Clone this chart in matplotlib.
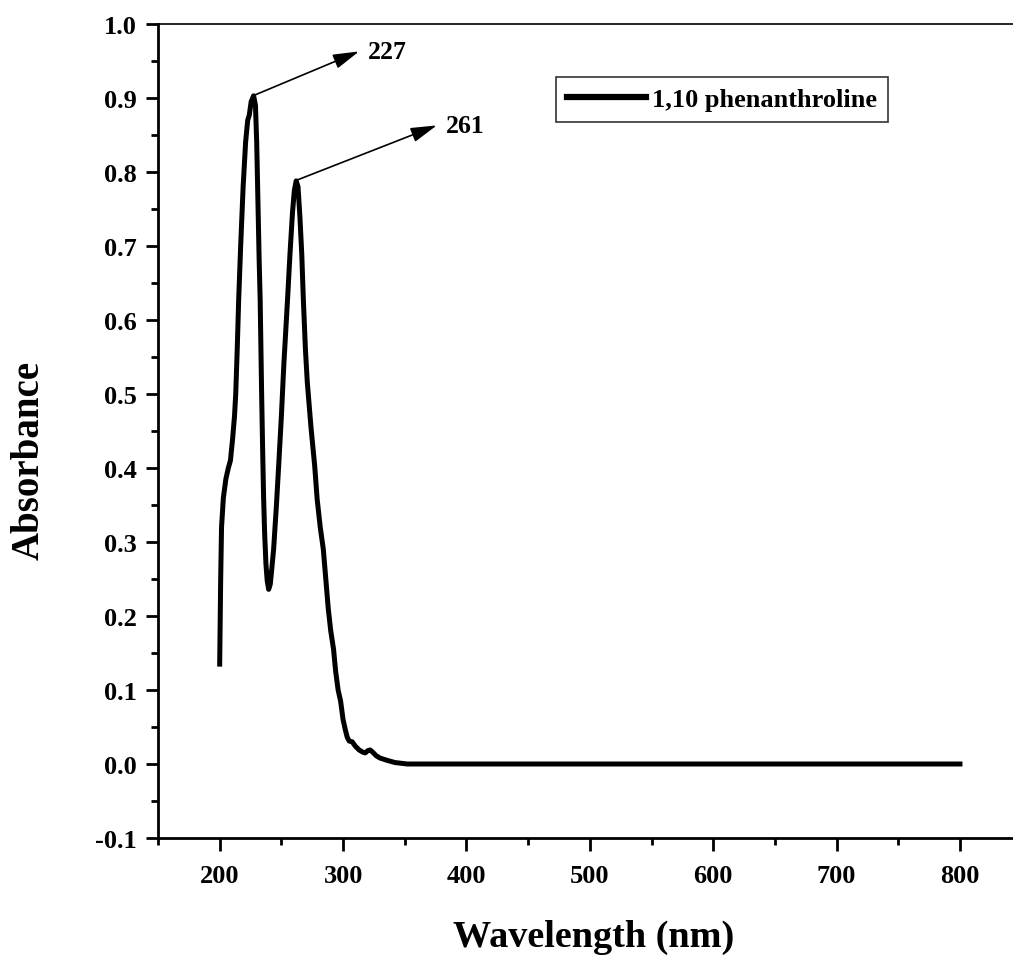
import matplotlib
matplotlib.use("Agg")
import matplotlib.pyplot as plt
from matplotlib.ticker import MultipleLocator

# UV-Vis absorption spectrum of 1,10-phenanthroline
wavelength = [200, 200.8, 201.5, 203, 205, 207, 208.7, 210.5, 212, 213, 214.2, 215.4,
              217, 219, 221, 222.7, 224, 225.5, 227.5, 229, 230, 231, 232, 232.8,
              234, 234.8, 235.6, 236.4, 237.5, 238.5, 239.7, 241, 242, 243.7, 246,
              247.8, 250, 252, 255, 257, 259, 260.5, 262, 263.5, 265, 266.5, 267.8,
              269.5, 271, 274, 277, 279, 281.5, 284, 286, 288, 290, 292.3, 294, 296,
              298, 300, 302, 303.4, 305, 307.4, 310, 313, 316, 318, 320, 322, 324,
              327, 330, 335.6, 342, 352, 370, 400, 450, 500, 550, 600, 650, 700,
              750, 800]
absorbance = [0.135, 0.25, 0.32, 0.36, 0.385, 0.40, 0.41, 0.44, 0.47, 0.50, 0.56, 0.628,
              0.70, 0.78, 0.84, 0.87, 0.877, 0.895, 0.903, 0.89, 0.84, 0.76, 0.68, 0.628,
              0.50, 0.426, 0.36, 0.313, 0.27, 0.248, 0.236, 0.243, 0.26, 0.29, 0.35,
              0.403, 0.47, 0.54, 0.628, 0.69, 0.745, 0.775, 0.788, 0.78, 0.74, 0.69, 0.628,
              0.56, 0.516, 0.455, 0.403, 0.358, 0.32, 0.29, 0.25, 0.21, 0.18, 0.155, 0.125,
              0.10, 0.085, 0.06, 0.045, 0.036, 0.031, 0.030, 0.024, 0.019, 0.016, 0.015,
              0.018, 0.019, 0.016, 0.011, 0.008, 0.005, 0.002, 0.0, 0.0, 0.0, 0.0, 0.0,
              0.0, 0.0, 0.0, 0.0, 0.0, 0.0]

peak_positions = [227, 261]
peak_values = [0.903, 0.788]
peak_labels = ["227", "261"]
label_positions = [(313, 0.963), (376, 0.863)]

x_ticks = [200, 300, 400, 500, 600, 700, 800]
y_ticks = [-0.1, 0.0, 0.1, 0.2, 0.3, 0.4, 0.5, 0.6, 0.7, 0.8, 0.9, 1.0]
y_tick_labels = ["-0.1", "0.0", "0.1", "0.2", "0.3", "0.4", "0.5", "0.6", "0.7", "0.8", "0.9", "1.0"]

plt.rcParams["font.family"] = ["Liberation Serif", "DejaVu Serif"]
plt.rcParams["font.weight"] = "bold"

W, H = 1013, 962
AX_L, AX_B, AX_T = 158, 839, 25
fig = plt.figure(figsize=(W / 100, H / 100), dpi=100)
ax = fig.add_axes([AX_L / W, (H - AX_B) / H, (W - AX_L) / W, (AX_B - AX_T) / H])

ax.plot(wavelength, absorbance, color="black", lw=3.6, solid_joinstyle="round",
        label="1,10 phenanthroline")

ax.set_xlim(150, 843)
ax.set_ylim(-0.1, 1.0)

ax.set_xticks(x_ticks)
ax.set_xticklabels([str(v) for v in x_ticks])
ax.set_yticks(y_ticks)
ax.set_yticklabels(y_tick_labels)
ax.xaxis.set_minor_locator(MultipleLocator(50))
ax.yaxis.set_minor_locator(MultipleLocator(0.05))

ax.tick_params(axis="both", which="major", direction="out", length=9, width=2,
               labelsize=19)
ax.tick_params(axis="x", which="major", pad=10)
ax.tick_params(axis="y", which="major", pad=6)
ax.tick_params(axis="both", which="minor", direction="out", length=5, width=2)
ax.tick_params(top=False, right=False, which="both")
for lab in ax.get_xticklabels() + ax.get_yticklabels():
    lab.set_fontweight("bold")

ax.spines["left"].set_linewidth(2)
ax.spines["bottom"].set_linewidth(2)
ax.spines["top"].set_linewidth(1.2)
ax.spines["right"].set_visible(False)

ax_w = W - AX_L
ax_h = AX_B - AX_T
ax.set_xlabel("Wavelength (nm)", fontsize=27.5, fontweight="bold")
ax.xaxis.set_label_coords((594 - AX_L) / ax_w, -(937 - AX_B) / ax_h)
ax.xaxis.label.set_verticalalignment("center")
ax.set_ylabel("Absorbance", fontsize=28, fontweight="bold")
ax.yaxis.set_label_coords((29 - AX_L) / ax_w, (AX_B - 460) / ax_h)
ax.yaxis.label.set_verticalalignment("center")

for px, py, txt, (tx, ty) in zip(peak_positions, peak_values, peak_labels, label_positions):
    ax.annotate("", xy=(tx, ty), xytext=(px, py),
                arrowprops=dict(arrowstyle="-|>,head_length=1.6,head_width=0.45",
                                color="black", lw=1.2, shrinkA=0, shrinkB=0))
    ax.text(tx + 7, ty, txt, fontsize=18.5, fontweight="bold", va="center", ha="left")

leg = ax.legend(loc="upper left", bbox_to_anchor=((556 - AX_L) / ax_w, (AX_B - 78) / ax_h),
                fontsize=19, frameon=True, fancybox=False, handlelength=3.0,
                borderpad=0.4, handletextpad=0.25, borderaxespad=0)
leg.get_frame().set_edgecolor("black")
leg.get_frame().set_linewidth(1.2)
for t in leg.get_texts():
    t.set_fontweight("bold")
for h in leg.get_lines():
    h.set_linewidth(4.5)

fig.savefig("out.png", dpi=100)
